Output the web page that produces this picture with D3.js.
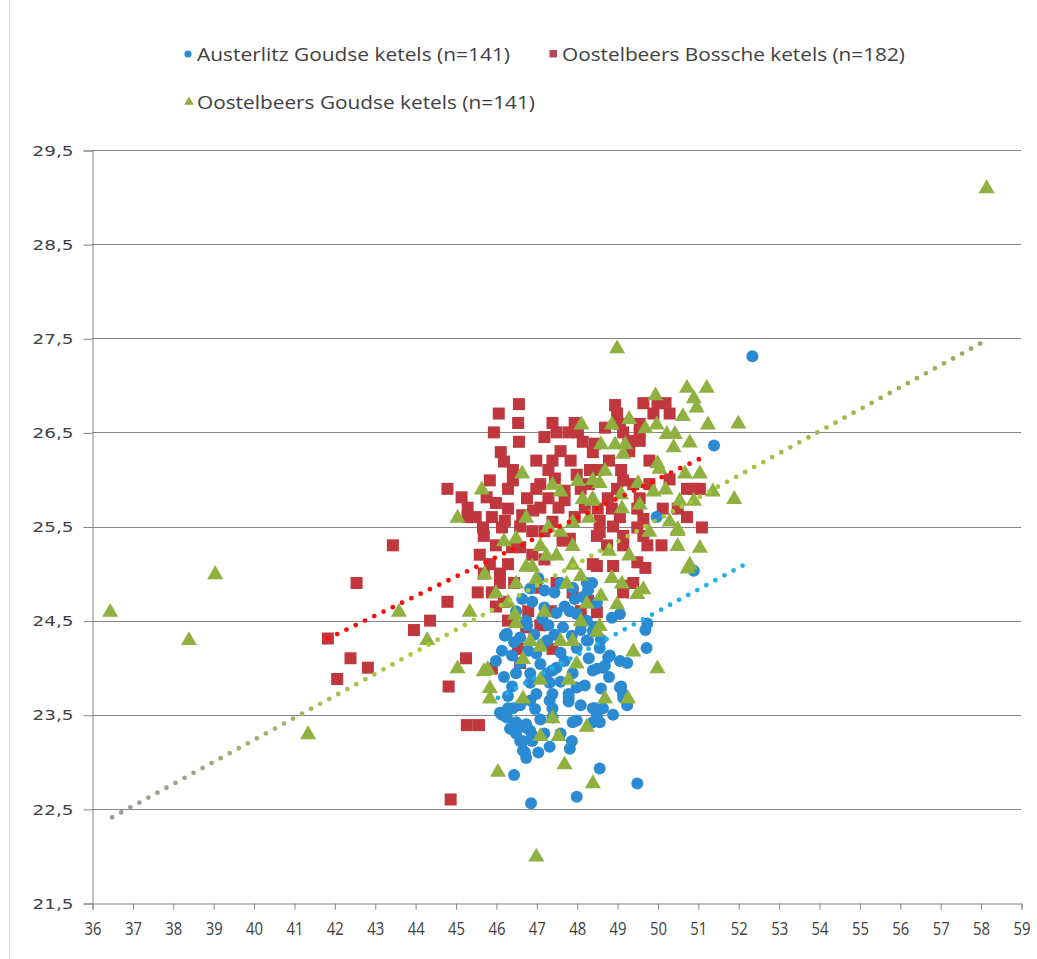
<!DOCTYPE html>
<html><head><meta charset="utf-8">
<script src="https://cdn.jsdelivr.net/npm/d3@7"></script>
<style>body{margin:0;background:#fff}svg{display:block}</style>
</head><body>
<svg id="c" width="1037" height="959"></svg>
<script>
const seriesNames = ["Austerlitz Goudse ketels (n=141)","Oostelbeers Bossche ketels (n=182)","Oostelbeers Goudse ketels (n=141)"];
const xTicks = d3.range(36,60,1);
const yTicks = [21.5,22.5,23.5,24.5,25.5,26.5,27.5,28.5,29.5];

const blueData = [
[46.4,23.8],[46.85,23.84],[47.0,23.72],[47.4,23.72],[47.33,23.84],[47.8,23.72],[47.8,23.64],[48.0,23.79],[48.2,23.81],[48.6,23.78],
[49.1,23.8],[49.15,23.72],[49.25,23.6],[48.9,23.5],[48.45,23.57],[48.4,23.42],[48.65,23.57],[48.0,23.44],[47.4,23.57],[46.97,23.56],
[46.85,23.65],[46.42,23.57],[46.15,23.5],[46.27,23.47],[46.5,23.42],[46.75,23.4],[46.5,23.3],[46.85,23.33],[46.9,23.22],[46.6,23.22],
[46.72,23.1],[46.75,23.04],[47.33,23.16],[47.83,23.14],[47.88,23.22],[48.57,22.93],[49.5,22.77],[48.0,22.63],[46.87,22.56],[46.45,22.86],
[47.4,23.47],[47.05,24.95],[46.85,24.84],[47.2,24.82],[47.45,24.8],[48.25,24.9],[48.28,24.82],[47.2,24.64],[47.5,24.58],[47.83,24.6],
[48.0,24.57],[46.75,24.5],[47.15,24.52],[46.27,24.36],[46.6,24.32],[47.27,24.29],[46.15,24.18],[46.4,24.13],[46.8,24.18],[47.0,24.15],
[47.6,24.16],[48.0,24.21],[48.28,24.29],[46.0,24.07],[46.6,24.05],[47.1,24.04],[47.7,24.07],[46.5,23.94],[46.85,23.94],[47.27,23.94],
[47.9,23.94],[48.4,23.97],[48.25,24.5],[48.4,24.39],[50.9,25.03],[49.07,24.57],[49.75,24.47],[48.45,24.43],[48.38,24.9],[48.5,24.69],
[49.73,24.21],[48.57,24.21],[48.82,24.13],[49.07,24.07],[49.25,24.05],[48.5,23.99],[48.7,24.02],[51.4,26.36],[52.35,27.31],[49.98,25.6],
[47.95,24.73],[49.7,24.4],[49.07,23.79],[46.77,23.36],[46.67,23.12],[48.4,23.57],[49.15,23.68],[48.65,24.0],[48.25,24.29],[47.88,24.34],
[47.66,24.43],[48.87,24.53],[46.65,24.73],[46.77,24.45],[47.15,24.25],[47.4,23.97],[47.8,23.68],[47.33,23.65],[46.3,23.57],[46.55,23.36],
[46.9,23.28],[46.67,23.22],[47.9,23.42],[48.57,23.42],[48.5,23.5],[46.5,24.6],[47.6,24.9],[47.9,24.85],[48.1,24.4],[47.5,24.0],
[46.3,23.7],[47.6,23.3],[47.2,23.3],[48.1,23.6],[46.22,24.34],[46.1,23.52],[48.78,24.11],[46.45,24.27],
[46.2,23.9],[46.6,23.6],[47.1,23.45],[47.6,23.85],[48.3,24.1],[47.3,24.45],[46.95,24.35],[47.7,24.65],[46.35,23.35],[47.05,23.1],
[48.8,23.9],[48.15,24.75],[46.9,24.7],[47.45,24.35],[48.6,24.3]
];

const redData = [
[43.45,25.3],[42.55,24.9],[41.84,24.31],[42.4,24.1],[42.07,23.88],[42.83,24.0],[43.97,24.4],[44.37,24.5],[44.8,24.7],[44.83,23.8],
[45.28,23.39],[45.58,23.39],[44.88,22.6],[45.26,24.1],[44.8,25.9],
[46.57,26.8],[46.07,26.7],[45.95,26.5],[46.57,26.4],[46.12,26.29],[46.2,26.19],[47.0,26.2],[47.4,26.2],[47.3,26.1],[46.42,26.1],
[46.42,25.99],[47.46,26.01],[45.85,25.99],[45.77,25.81],[45.15,25.81],[45.3,25.7],[45.3,25.6],[45.9,25.6],[46.3,25.69],[46.22,25.56],
[46.77,25.8],[46.65,25.62],[46.92,25.67],[47.3,25.8],[47.55,25.7],[47.7,25.78],[47.7,25.88],[45.68,25.49],[46.15,25.49],[47.4,26.6],
[47.5,26.5],[47.8,26.5],[47.95,26.6],[48.03,26.5],[48.15,26.4],[48.45,26.38],[48.4,26.29],[48.33,26.1],[48.52,26.1],
[48.95,26.79],[49.65,26.81],[50.0,26.81],[50.2,26.81],[49.0,26.7],[49.9,26.7],[50.3,26.7],[49.07,26.59],[49.56,26.59],[49.15,26.5],
[49.56,26.5],[49.28,26.41],[49.56,26.41],[49.1,26.1],[49.15,25.99],[49.0,25.9],[50.73,25.9],[51.05,25.9],[50.9,25.9],[48.77,25.8],
[49.56,25.8],[48.52,25.69],[48.87,25.69],[49.5,25.69],[50.13,25.69],[50.5,25.69],[49.65,25.58],[50.73,25.6],[48.57,25.56],[49.07,25.6],
[51.1,25.49],[49.5,25.49],[49.15,25.4],[49.65,25.4],[48.57,25.44],
[45.7,25.4],[45.6,25.2],[45.85,25.1],[46.3,25.1],[46.1,25.0],[45.7,25.0],[46.1,24.9],[45.55,24.8],[45.9,24.8],[46.0,24.65],
[46.3,24.5],[46.8,24.6],[46.75,24.43],[46.55,24.2],[47.4,24.2],[45.9,23.99],[46.4,25.28],[46.6,25.28],[47.5,24.9],[47.9,24.8],
[47.83,25.37],[48.4,25.1],[48.28,24.71],[47.36,24.6],
[48.5,25.4],[48.75,25.3],[49.15,25.3],[49.75,25.3],[48.5,25.08],[48.9,25.08],[49.5,25.12],[49.7,25.06],[49.15,24.87],[49.4,24.9],
[49.15,24.8],[48.5,24.59],
[47.1,25.7],[47.2,25.45],[47.65,25.35],[47.95,25.6],[48.2,25.7],[48.1,25.9],[47.1,25.95],[46.0,25.3],[46.9,25.2],[47.2,25.15],
[46.3,25.9],[46.0,25.75],[46.6,25.5],[46.9,25.45],[47.0,25.9],[47.6,26.3],[47.2,26.45],[47.85,26.2],[48.0,26.05],[48.7,26.55],
[48.8,26.2],[49.3,26.3],[49.8,26.2],[49.4,25.95],[49.8,25.95],[50.3,26.0],[48.3,25.95],[47.4,25.55],[46.45,24.9],[46.2,24.7],
[47.0,24.85],[48.1,24.6],[48.9,25.5],[50.1,25.3],[46.6,24.05],[47.1,24.45],[45.5,25.6],[46.55,26.6]
];

const greenData = [
[36.45,24.6],[38.4,24.3],[39.05,25.0],[41.35,23.3],[43.6,24.6],[44.3,24.3],[45.05,25.6],[45.05,24.0],[45.35,24.6],[45.65,25.9],
[46.05,22.9],[47.0,22.0],[49.0,27.4],[58.15,29.1],[52.0,26.6],[51.9,25.8],[50.0,24.0],
[48.4,22.78],[47.7,22.98],[47.1,23.28],[47.55,23.28],[48.25,23.38],[47.4,23.47],[49.27,23.68],[48.7,23.68],[46.67,23.68],
[45.85,23.68],[45.85,23.79],[45.7,23.97],[47.1,23.88],[47.8,23.88],
[46.5,25.38],[47.1,25.3],[47.25,25.2],[47.5,25.2],[46.75,25.08],[46.9,25.08],[47.9,25.3],[47.9,25.1],[45.72,25.0],[46.5,24.9],
[47.75,24.9],[48.1,24.98],[46.0,24.8],[46.47,24.57],[46.5,24.48],[46.85,24.29],[47.1,24.23],[47.6,24.29],[47.9,24.29],[48.1,24.5],
[48.25,24.69],[48.5,24.39],[45.8,23.99],[48.0,24.05],[46.67,24.1],
[50.5,25.3],[51.05,25.28],[50.8,25.1],[50.75,25.06],[50.5,25.46],[48.87,24.96],[49.12,24.9],[49.65,24.84],[49.5,24.79],[48.6,24.77],
[49.0,24.68],[48.57,24.45],[49.4,24.18],
[48.12,26.59],[46.65,26.07],[47.6,25.88],[48.03,25.99],[48.15,25.8],[48.4,25.8],
[50.73,26.98],[51.22,26.98],[49.95,26.9],[50.9,26.87],[50.97,26.77],[50.63,26.68],[48.87,26.59],[49.98,26.59],[51.25,26.59],[50.23,26.49],
[50.43,26.49],[48.6,26.38],[48.95,26.38],[49.2,26.38],[49.15,26.28],[50.0,26.18],[50.05,26.12],[50.68,26.07],[51.05,26.07],[49.52,25.97],
[48.57,25.97],[51.37,25.88],[49.1,25.85],[49.9,25.88],[50.55,25.78],[50.9,25.78],[49.56,25.74],[49.12,25.7],[48.37,25.78],[50.3,25.56],
[50.5,25.48],
[47.3,25.5],[47.6,25.45],[46.75,25.6],[48.3,25.6],[48.7,26.1],[47.2,24.6],[46.3,24.7],[49.3,25.2],
[49.7,26.55],[50.4,26.35],[49.3,26.65],[50.8,26.4],[48.4,26.0],[47.4,25.95],[49.8,25.45],[50.2,25.9],[47.9,25.55],[46.2,25.35],
[47.0,24.95],[48.8,25.25]
];

const blueTrend = [[46.05,23.68],[52.3,25.13]];
const redTrend = [[41.84,24.31],[51.05,26.22]];
const greenTrend = [[36.5,22.41],[58.15,27.48]];

const colors = {blue:"#2a8ad2", red:"#c0383e", green:"#8eb13f"};

const svg = d3.select("#c");
const x = d3.scaleLinear().domain([36,59]).range([92,1021]);
const y = d3.scaleLinear().domain([21.5,29.5]).range([903,150]);

svg.append("line").attr("x1",9.5).attr("x2",9.5).attr("y1",0).attr("y2",959).attr("stroke","#d6d6d6");

svg.append("g").selectAll("line").data(yTicks.filter(d=>d>21.5)).join("line")
  .attr("x1",x(36)).attr("x2",x(59)).attr("y1",d=>Math.round(y(d))+0.5).attr("y2",d=>Math.round(y(d))+0.5)
  .attr("stroke","#858585").attr("stroke-width",1);

const yAxis = d3.axisLeft(y).tickValues(yTicks).tickSize(9).tickPadding(10)
  .tickFormat(d=>d3.format(".1f")(d).replace(".",","));
const gy = svg.append("g").attr("transform","translate("+(x(36)+0.5)+",0.5)").call(yAxis);
gy.select(".domain").attr("stroke","#858585");
gy.selectAll(".tick line").attr("stroke","#858585");
gy.selectAll(".tick text").attr("font-family","DejaVu Sans, sans-serif").attr("font-size",14.5)
  .attr("fill","#404040").attr("textLength",41).attr("lengthAdjust","spacingAndGlyphs");

const xAxis = d3.axisBottom(x).tickValues(xTicks).tickSize(6).tickPadding(13).tickFormat(d3.format("d"));
const gx = svg.append("g").attr("transform","translate(0.5,"+(Math.round(y(21.5))+0.5)+")").call(xAxis);
gx.select(".domain").attr("stroke","#858585");
gx.selectAll(".tick line").attr("stroke","#858585");
gx.selectAll(".tick text").attr("font-family","'Open Sans',sans-serif")
  .attr("font-size",18).attr("fill","#404040").attr("textLength",17).attr("lengthAdjust","spacingAndGlyphs");

const tri = d3.symbol().type(d3.symbolTriangle).size(112);
const tri2 = d3.symbol().type(d3.symbolTriangle).size(38);

svg.append("g").selectAll("rect").data(redData).join("rect")
  .attr("x",d=>x(d[0])-6).attr("y",d=>y(d[1])-6).attr("width",12).attr("height",12)
  .attr("fill",colors.red);
svg.append("g").selectAll("circle").data(blueData).join("circle")
  .attr("cx",d=>x(d[0])).attr("cy",d=>y(d[1])).attr("r",6).attr("fill",colors.blue);
svg.append("g").selectAll("path").data(greenData).join("path")
  .attr("d",tri).attr("transform",d=>"translate("+x(d[0])+","+(y(d[1])+1)+")").attr("fill",colors.green);

const defs = svg.append("defs");
const grad = defs.append("linearGradient").attr("id","gtrend").attr("gradientUnits","userSpaceOnUse")
  .attr("x1",x(greenTrend[0][0])).attr("y1",y(greenTrend[0][1])).attr("x2",x(greenTrend[1][0])).attr("y2",y(greenTrend[1][1]));
grad.append("stop").attr("offset",0).attr("stop-color","#9a9a9e");
grad.append("stop").attr("offset",0.35).attr("stop-color","#a9cc3a");
grad.append("stop").attr("offset",0.7).attr("stop-color","#a8c23e");
grad.append("stop").attr("offset",1).attr("stop-color","#a6a460");
const line = d3.line().x(d=>x(d[0])).y(d=>y(d[1]));
svg.append("path").attr("d",line(greenTrend)).attr("stroke","url(#gtrend)").attr("stroke-width",4.8)
  .attr("stroke-dasharray","0 10.3").attr("stroke-linecap","round").attr("fill","none");
svg.append("path").attr("d",line(redTrend)).attr("stroke","#ff0a0a").attr("stroke-width",4.8)
  .attr("stroke-dasharray","0 10.3").attr("stroke-linecap","round").attr("fill","none");
svg.append("path").attr("d",line(blueTrend)).attr("stroke","#22b0ea").attr("stroke-width",4.8)
  .attr("stroke-dasharray","0 10.3").attr("stroke-linecap","round").attr("fill","none");

const lf = "'Open Sans',sans-serif";
const lg = svg.append("g");
lg.append("circle").attr("cx",188).attr("cy",54).attr("r",3.6).attr("fill",colors.blue);
lg.append("text").attr("x",197).attr("y",61).text(seriesNames[0]).attr("textLength",313);
lg.append("rect").attr("x",549.5).attr("y",50).attr("width",7.5).attr("height",7.5).attr("fill","#b5475a");
lg.append("text").attr("x",562).attr("y",61).text(seriesNames[1]).attr("textLength",343);
lg.append("path").attr("d",tri2).attr("transform","translate(189,102)").attr("fill",colors.green);
lg.append("text").attr("x",197).attr("y",109).text(seriesNames[2]).attr("textLength",338);
lg.selectAll("text").attr("font-family",lf).attr("font-size",19).attr("fill","#404040").attr("lengthAdjust","spacingAndGlyphs");
</script>
</body></html>
